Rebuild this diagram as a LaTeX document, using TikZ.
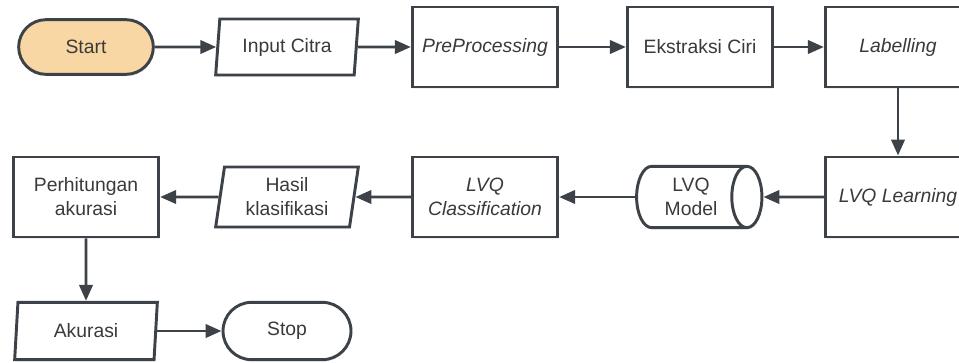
\documentclass[tikz,border=0pt]{standalone}
\usepackage{fontspec}
\setmainfont{Liberation Sans}
\usetikzlibrary{shapes.geometric,shapes.misc,arrows.meta,shadows}

\definecolor{linegray}{HTML}{3D4248}
\definecolor{textgray}{HTML}{3A3A3A}
\definecolor{startfill}{HTML}{F9D7A5}

\tikzset{
  base/.style={draw=linegray,line width=2.2pt,fill=white,text=textgray,align=center,
    inner sep=0pt,font=\fontsize{14.5}{18}\selectfont,
    drop shadow={opacity=0.12,shadow xshift=0.6pt,shadow yshift=-1.5pt}},
  terminal/.style={base,rounded rectangle,minimum width=101pt,minimum height=41pt},
  process/.style={base,rectangle,minimum width=109pt,minimum height=60pt},
  inout/.style={base,trapezium,trapezium left angle=77,trapezium right angle=103,
    trapezium stretches body,minimum width=107pt,minimum height=42pt},
  store/.style={base,cylinder,shape aspect=0.8,minimum width=46pt,minimum height=94pt},
  flow/.style={draw=linegray,line width=2.2pt,-{Triangle[length=12pt,width=10pt]}}
}

\begin{document}
\begin{tikzpicture}[x=0.75pt,y=-0.75pt]

  \useasboundingbox (0,0) rectangle (959,362);

  \node (START) at (86,47) [terminal,fill=startfill] {Start};
  \node (INPUT) at (287,47) [inout] {Input Citra};
  \node (PREP) at (485,47) [process] {\itshape PreProcessing};
  \node (EKST) at (700,47) [process] {Ekstraksi Ciri};
  \node (LABEL) at (898,47) [process] {\itshape Labelling};

  \node (LEARN) at (898,197) [process] {\itshape LVQ Learning};
  \node (MODEL) at (691,197) [store] {LVQ\\Model};
  \node (CLASS) at (485,197) [process,font=\fontsize{14.5}{18}\selectfont\itshape] {LVQ\\Classification};
  \node (HASIL) at (287,197) [inout,minimum height=45pt] {Hasil\\klasifikasi};
  \node (HITUNG) at (86,197) [process] {Perhitungan\\akurasi};

  \node (AKUR) at (86,331) [inout,minimum height=43pt] {Akurasi};
  \node (STOP) at (287,331) [terminal,minimum width=96pt,minimum height=43pt] {Stop};

  \draw[flow] (START) -- (INPUT);
  \draw[flow] (INPUT) -- (PREP);
  \draw[flow] (PREP) -- (EKST);
  \draw[flow] (EKST) -- (LABEL);
  \draw[flow] (LABEL) -- (LEARN);

  \draw[flow] (LEARN) -- (MODEL);
  \draw[flow] (MODEL) -- (CLASS);
  \draw[flow] (CLASS) -- (HASIL);
  \draw[flow] (HASIL) -- (HITUNG);
  \draw[flow] (HITUNG) -- (AKUR);

  \draw[flow] (AKUR) -- (STOP);

\end{tikzpicture}
\end{document}
